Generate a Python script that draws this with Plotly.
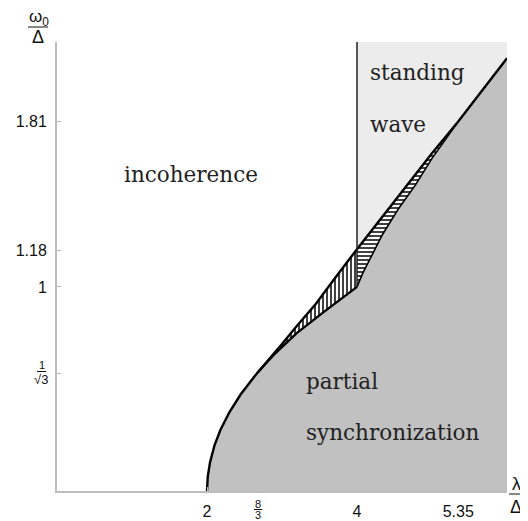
import numpy as np
import plotly.graph_objects as go

# ---- data ----
# pitchfork boundary (incoherence -> partial sync), lambda/Delta vs omega0/Delta
pitch_x = [2.0, 2.01, 2.04, 2.1, 2.18, 2.3, 2.45, 2.667, 2.9, 3.2, 3.55, 4.0]
pitch_y = [0.0, 0.07, 0.14, 0.224, 0.3, 0.387, 0.474, 0.577, 0.671, 0.775, 0.875, 1.0]
# saddle-node boundary (upper edge of hatched band and partial sync)
sn_x = [2.667, 2.85, 3.0, 3.2, 3.45, 3.7, 4.0, 4.5, 5.0, 5.35, 5.7, 6.0]
sn_y = [0.577, 0.655, 0.72, 0.81, 0.916, 1.04, 1.185, 1.42, 1.655, 1.81, 1.975, 2.12]
# homoclinic boundary (lower edge of the horizontally hatched band)
hom_x = [4.0, 4.08, 4.16, 4.34, 4.56, 4.78, 5.0, 5.2, 5.35]
hom_y = [1.0, 1.07, 1.127, 1.257, 1.387, 1.5, 1.63, 1.735, 1.81]
# Hopf line
hopf_x = 4.0
y_top = 2.2
x_max = 6.0

x_tick_vals = [2, 8 / 3, 4, 5.35]
x_tick_text = ["2", " ", "4", "5.35"]
y_tick_vals = [1 / np.sqrt(3), 1, 1.18, 1.81]
y_tick_text = [" ", "1", "1.18", "1.81"]

region_labels = [
    ("incoherence", 0.867, 1.55),
    ("standing", 4.147, 2.05),
    ("wave", 4.147, 1.795),
    ("partial", 3.293, 0.535),
    ("synchronization", 3.293, 0.285),
]

# ---- layout geometry (page pixels; the page body adds an 8px offset) ----
OFF = 8
W, H = 528 - OFF, 521 - OFF
ML, MR, MT, MB = 57 - OFF, 21, 42 - OFF, 30
PW, PH = W - ML - MR, H - MT - MB


def pxx(px):
    return (px - OFF - ML) / PW


def pxy(py):
    return (H + OFF - MB - py) / PH


px_, py_ = np.array(pitch_x), np.array(pitch_y)
sx, sy = np.array(sn_x), np.array(sn_y)
hx, hy = np.array(hom_x), np.array(hom_y)

fig = go.Figure()

# light gray standing wave region
m = sx >= hopf_x
fig.add_trace(go.Scatter(
    x=np.concatenate([sx[m], [x_max, hopf_x]]),
    y=np.concatenate([sy[m], [y_top, y_top]]),
    fill="toself", fillcolor="#ececec", line=dict(width=0), mode="lines",
    hoverinfo="skip", showlegend=False))

# dark gray partial synchronization region
ms = sx > hx[-1]
fig.add_trace(go.Scatter(
    x=np.concatenate([px_, hx[1:], sx[ms], [x_max, px_[0]]]),
    y=np.concatenate([py_, hy[1:], sy[ms], [0, 0]]),
    fill="toself", fillcolor="#c1c1c1", line=dict(width=0), mode="lines",
    hoverinfo="skip", showlegend=False))

# vertically hatched band (x < 4)
ms1 = sx <= hopf_x
mp1 = px_ >= sx[0] - 1e-9
fig.add_trace(go.Scatter(
    x=np.concatenate([sx[ms1], px_[mp1][::-1]]),
    y=np.concatenate([sy[ms1], py_[mp1][::-1]]),
    fill="toself", fillcolor="white", line=dict(width=0), mode="lines",
    fillpattern=dict(shape="|", size=4, solidity=0.4, fgcolor="#111111",
                     bgcolor="white", fillmode="replace"),
    hoverinfo="skip", showlegend=False))

# horizontally hatched band (x > 4)
ms2 = (sx >= hopf_x) & (sx <= hx[-1] + 1e-9)
fig.add_trace(go.Scatter(
    x=np.concatenate([sx[ms2], hx[::-1]]),
    y=np.concatenate([sy[ms2], hy[::-1]]),
    fill="toself", fillcolor="white", line=dict(width=0), mode="lines",
    fillpattern=dict(shape="-", size=4, solidity=0.4, fgcolor="#111111",
                     bgcolor="white", fillmode="replace"),
    hoverinfo="skip", showlegend=False))

# boundary curves
fig.add_trace(go.Scatter(x=pitch_x, y=pitch_y, mode="lines",
                         line=dict(color="black", width=2.4), hoverinfo="skip", showlegend=False))
fig.add_trace(go.Scatter(x=sn_x, y=sn_y, mode="lines",
                         line=dict(color="black", width=2.4), hoverinfo="skip", showlegend=False))
fig.add_trace(go.Scatter(x=hom_x, y=hom_y, mode="lines",
                         line=dict(color="black", width=1.6), hoverinfo="skip", showlegend=False))
fig.add_trace(go.Scatter(x=[hopf_x, hopf_x], y=[hom_y[0], y_top], mode="lines",
                         line=dict(color="#222222", width=1.5), hoverinfo="skip", showlegend=False))

axis_common = dict(showgrid=False, zeroline=False, showline=True, linecolor="#bdbdbd",
                   linewidth=2, ticks="inside", ticklen=4, tickwidth=1, tickcolor="#bdbdbd",
                   automargin=False,
                   tickfont=dict(family="Liberation Sans, Arial, sans-serif", size=16, color="#111"))

fig.update_layout(
    width=W, height=H, margin=dict(l=ML, r=MR, t=MT, b=MB, autoexpand=False),
    paper_bgcolor="white", plot_bgcolor="white",
    xaxis=dict(range=[0, x_max], tickvals=x_tick_vals, ticktext=x_tick_text,
               ticklabelstandoff=5, **axis_common),
    yaxis=dict(range=[0, y_top], tickvals=y_tick_vals, ticktext=y_tick_text,
               ticklabelstandoff=5, **axis_common),
)

serif = dict(family="DejaVu Serif, serif", size=21.5, color="#222")
for txt, x, y in region_labels:
    fig.add_annotation(x=x, y=y, xref="x", yref="y", text=txt, showarrow=False,
                       xanchor="left", yanchor="middle", font=serif)

sans = "Liberation Sans, Arial, sans-serif"
frac_ann = [
    ("1", 42, 365, 11), ("√3", 41, 379, 13),
    ("8", 258, 503.5, 11), ("3", 258, 515.5, 11),
    ("ω<sub>0</sub>", 39, 18, 17), ("Δ", 38, 37, 18),
    ("λ", 516, 484, 18), ("Δ", 516, 507, 18),
]
for txt, x, y, s in frac_ann:
    fig.add_annotation(x=pxx(x), y=pxy(y), xref="paper", yref="paper", text=txt,
                       showarrow=False, xanchor="center", yanchor="middle",
                       borderpad=0, font=dict(family=sans, size=s, color="#111"))

bars = [(28, 48, 27), (37, 46, 371.5), (254, 262, 509.5), (509, 524, 494)]
for x0, x1, y in bars:
    fig.add_shape(type="line", xref="paper", yref="paper",
                  x0=pxx(x0), x1=pxx(x1), y0=pxy(y), y1=pxy(y),
                  line=dict(color="#111", width=1))

fig.write_html("out.html",
               post_script="document.documentElement.style.overflow='hidden';")
